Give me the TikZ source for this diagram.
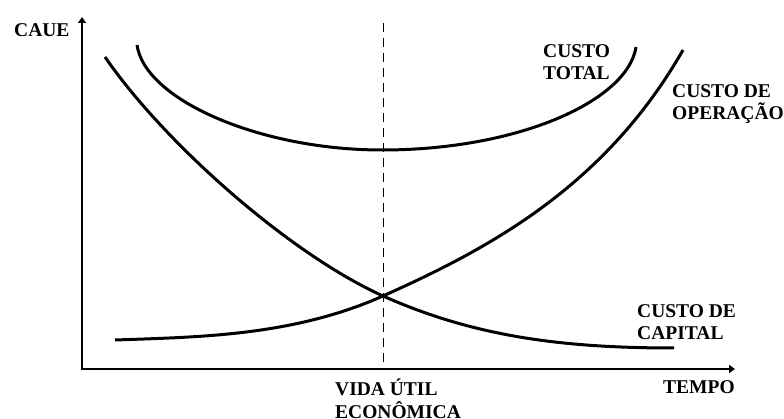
\documentclass[tikz,border=0pt]{standalone}
\usepackage{fontspec}
\setmainfont{Liberation Serif}
\usetikzlibrary{arrows.meta}
\begin{document}
\begin{tikzpicture}[x=1pt,y=-1pt,
  curva/.style={line width=3pt},
  eixo/.style={line width=2.6pt,{Triangle[length=6pt,width=8pt]}-{Triangle[length=6pt,width=8pt]}},
  rotulo/.style={font=\bfseries\fontsize{19.5}{22.5}\selectfont,inner sep=0pt,anchor=base west,align=left}]
\useasboundingbox (0,0) rectangle (784,419);
\coordinate (O) at (82,369);
\coordinate (ytopo) at (82,17);
\coordinate (xfim) at (735,369);
\coordinate (V) at (383,296);
\coordinate (vu) at (383,23);
% eixos e vida util
\draw[eixo] (ytopo) -- (O) -- (xfim);
\draw[dash pattern=on 9pt off 6pt,line width=0.8pt] (vu) -- (vu |- O);
% curvas
\draw[curva] (105,57) .. controls (165,144) and (290,254) .. (V) .. controls (473,336) and (560,348) .. (674,348);
\draw[curva] (115,340) .. controls (200,337) and (293,336) .. (V) .. controls (483,251) and (603,190) .. (683,50);
\draw[curva] (137,45) .. controls (145,100) and (260,150) .. (382,150) .. controls (520,150) and (628,100) .. (636,47);
% rotulos (base = ultima linha)
\node[rotulo] (caue) at (14,37) {CAUE};
\node[rotulo] (total) at (543,80) {CUSTO\\TOTAL};
\node[rotulo] (operacao) at (672,120) {CUSTO DE\\OPERAÇÃO};
\node[rotulo] (capital) at (637,340) {CUSTO DE\\CAPITAL};
\node[rotulo] (tempo) at (663,393) {TEMPO};
\node[rotulo] (vida) at (335,418) {VIDA ÚTIL\\ECONÔMICA};
\end{tikzpicture}
\end{document}
